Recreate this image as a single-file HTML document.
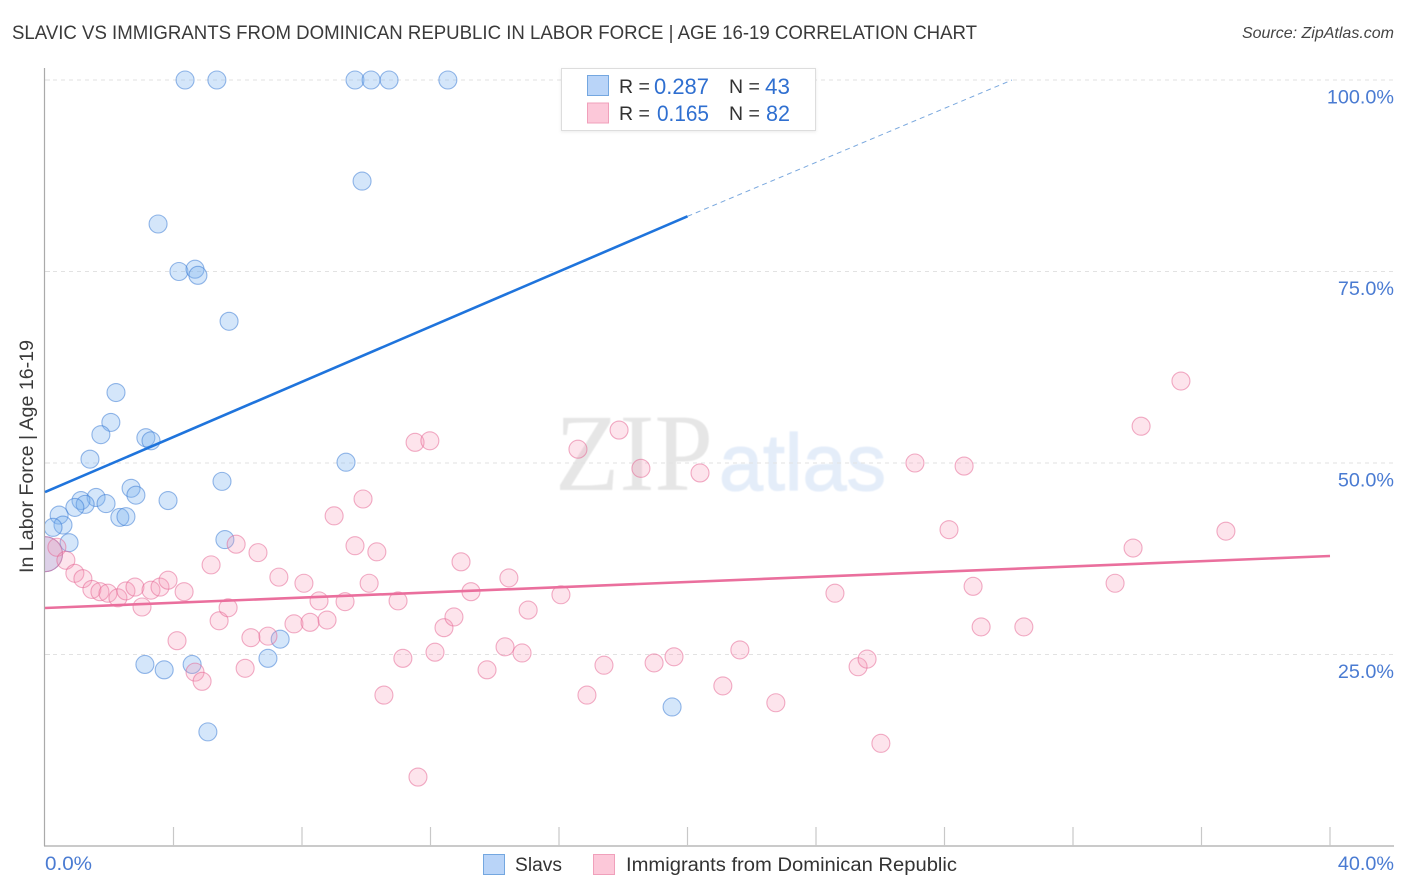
<!DOCTYPE html>
<html lang="en">
<head>
<meta charset="utf-8">
<title>Slavic vs Immigrants from Dominican Republic in Labor Force | Age 16-19 Correlation Chart</title>
<style>
html,body{margin:0;padding:0;background:#fff;width:1406px;height:892px;overflow:hidden}
svg{display:block}
text{font-family:"Liberation Sans",sans-serif}
</style>
</head>
<body>
<svg id="chart" width="1406" height="892" viewBox="0 0 1406 892" xmlns="http://www.w3.org/2000/svg">
  <defs>
    <clipPath id="plot-clip"><rect x="45" y="60" width="1349" height="786"/></clipPath>
    <filter id="legend-shadow" x="-5%" y="-10%" width="110%" height="125%"><feDropShadow dx="0" dy="1" stdDeviation="1.5" flood-color="#000" flood-opacity="0.08"/></filter>
    <filter id="wm-blur" x="-5%" y="-5%" width="110%" height="110%"><feGaussianBlur stdDeviation="0.6"/></filter>
  </defs>
  <text x="12" y="39" font-size="19.5" fill="#3a3a3a" textLength="965" lengthAdjust="spacingAndGlyphs">SLAVIC VS IMMIGRANTS FROM DOMINICAN REPUBLIC IN LABOR FORCE | AGE 16-19 CORRELATION CHART</text>
  <text x="1394" y="38" font-size="16" font-style="italic" fill="#444" text-anchor="end">Source: ZipAtlas.com</text>

  <g filter="url(#wm-blur)">
    <text x="555" y="490" font-size="110" fill="#e6e6e6" textLength="158" lengthAdjust="spacingAndGlyphs" style="font-family:'Liberation Serif',serif">ZIP</text>
    <text x="719" y="490" font-size="80" fill="#e4edf9" stroke="#e4edf9" stroke-width="1.2" textLength="167" lengthAdjust="spacingAndGlyphs">atlas</text>
  </g>

  <g id="grid"></g>
  <g id="axes"></g>
  <g id="blue-points" clip-path="url(#plot-clip)"></g>
  <g id="pink-points" clip-path="url(#plot-clip)"></g>
  <g id="trends"></g>
  <g id="tick-labels"></g>

  <text transform="translate(33,573) rotate(-90)" font-size="19" fill="#3a3a3a" textLength="233" lengthAdjust="spacingAndGlyphs">In Labor Force | Age 16-19</text>

  <g>
    <rect x="561.5" y="68.5" width="254" height="62" fill="#fff" stroke="#ddd" filter="url(#legend-shadow)"/>
    <rect x="587.5" y="75.5" width="21" height="20" fill="#b9d4f8" stroke="#74a7e0"/>
    <rect x="587.5" y="103" width="21" height="20" fill="#fcc8d9" stroke="#f0a0bb"/>
    <text x="619" y="93" font-size="19.5" fill="#333">R =</text>
    <text x="654" y="94" font-size="22" fill="#2f6fd0" textLength="55" lengthAdjust="spacingAndGlyphs">0.287</text>
    <text x="729" y="93" font-size="19.5" fill="#333">N =</text>
    <text x="765" y="94" font-size="22" fill="#2f6fd0" textLength="25" lengthAdjust="spacingAndGlyphs">43</text>
    <text x="619" y="120" font-size="19.5" fill="#333">R =</text>
    <text x="657" y="121" font-size="22" fill="#2f6fd0" textLength="52" lengthAdjust="spacingAndGlyphs">0.165</text>
    <text x="729" y="120" font-size="19.5" fill="#333">N =</text>
    <text x="766" y="121" font-size="22" fill="#2f6fd0" textLength="24" lengthAdjust="spacingAndGlyphs">82</text>
  </g>

  <g>
    <rect x="483.5" y="854.5" width="21" height="20" fill="#b9d4f8" stroke="#74a7e0"/>
    <text x="515" y="871" font-size="19" fill="#333" textLength="47" lengthAdjust="spacingAndGlyphs">Slavs</text>
    <rect x="593.5" y="854.5" width="21" height="20" fill="#fcc8d9" stroke="#f0a0bb"/>
    <text x="626" y="871" font-size="19" fill="#333" textLength="331" lengthAdjust="spacingAndGlyphs">Immigrants from Dominican Republic</text>
  </g>
</svg>
<script>
// Chart data (percent values)
const xTickValues = [0, 4, 8, 12, 16, 20, 24, 28, 32, 36, 40];
const yGridValues = [25, 50, 75, 100];
const yTickLabels = ["25.0%", "50.0%", "75.0%", "100.0%"];
const xEndLabels = ["0.0%", "40.0%"];

const slavsX = [4.36,5.35,9.65,10.15,10.71,12.54,9.87,3.52,4.17,4.67,4.76,5.73,2.21,2.05,1.74,3.14,3.3,1.4,9.37,5.51,2.68,2.83,1.59,1.12,1.25,0.93,1.9,3.83,0.44,2.33,2.52,0.56,0.25,5.6,0.75,0,3.11,3.71,4.58,6.94,7.32,19.52,5.07];
const slavsY = [100,100,100,100,100,100,86.8,81.2,75,75.3,74.5,68.5,59.2,55.3,53.7,53.3,52.9,50.5,50.1,47.6,46.7,45.8,45.5,45.1,44.6,44.2,44.7,45.1,43.2,42.9,43,41.9,41.6,40,39.6,38.1,23.7,23,23.7,24.5,27,18.15,14.9];
const slavsR = [9,9,9,9,9,9,9,9,9,9,9,9,9,9,9,9,9,9,9,9,9,9,9,9,9,9,9,9,9,9,9,9,9,9,9,17.5,9,9,9,9,9,9,9];

const immigrantsX = [0,0.37,0.65,0.93,1.18,1.46,1.71,1.96,2.27,2.52,2.8,3.02,3.3,3.58,3.83,4.33,4.11,4.67,4.89,5.17,5.42,5.7,5.95,6.23,6.41,6.63,6.94,7.28,7.75,8.06,8.25,8.53,8.78,9,9.34,9.65,9.9,10.09,10.33,10.55,10.99,11.14,11.52,11.61,11.98,12.14,12.42,12.73,12.95,13.26,13.76,14.32,14.44,14.85,15.04,16.06,16.59,16.87,17.4,17.87,18.55,18.96,19.58,20.39,21.1,21.63,22.75,24.59,25.31,25.59,26.02,27.08,28.14,28.61,28.89,29.14,30.47,33.31,33.87,34.12,35.36,36.76];
const immigrantsY = [38.1,39,37.3,35.6,34.9,33.5,33.2,33,32.4,33.3,33.8,31.2,33.4,33.8,34.7,33.2,26.8,22.7,21.5,36.7,29.4,31.1,39.4,23.2,27.2,38.3,27.4,35.1,29,34.3,29.2,32,29.5,43.1,31.9,39.2,45.3,34.3,38.4,19.7,32,24.5,52.7,9,52.9,25.3,28.5,29.9,37.1,33.2,23,26,35,25.2,30.8,32.8,51.8,19.7,23.6,54.3,49.3,23.9,24.7,48.7,20.9,25.6,18.7,33,23.4,24.4,13.4,50,41.3,49.6,33.9,28.6,28.6,34.3,38.9,54.8,60.7,41.1];
const immigrantsR = [17.5].concat(new Array(81).fill(9));

const slavsTrendX = [0, 20];
const slavsTrendY = [46.2, 82.2];
const slavsTrendDashX = [20, 30.1];
const slavsTrendDashY = [82.2, 100];
const immigrantsTrendX = [0, 40];
const immigrantsTrendY = [31.07, 37.86];

// Axis functions
const xScale = v => 45 + v * 32.125;
const yScale = v => 846 - v * 7.66;

const NS = 'http://www.w3.org/2000/svg';
function make(tag, parentId, props) {
  const el = document.createElementNS(NS, tag);
  for (const k in props) el.setAttribute(k, props[k]);
  document.getElementById(parentId).appendChild(el);
  return el;
}

yGridValues.forEach(v => {
  const grid = make('line', 'grid', {x1: 45, x2: 1394, y1: yScale(v), y2: yScale(v), stroke: '#e2e2e2', 'stroke-width': 1, 'stroke-dasharray': '4 4'});
  
  
  const minor = make('line', 'axes', {x1: 45, x2: 50, y1: yScale(v), y2: yScale(v), stroke: '#ddd', 'stroke-width': 1});
  
  
});

const yAxis = make('line', 'axes', {x1: 44.5, x2: 44.5, y1: 68, y2: 846, stroke: '#aaa', 'stroke-width': 1.2});


const xAxis = make('line', 'axes', {x1: 44, x2: 1394, y1: 846, y2: 846, stroke: '#aaa', 'stroke-width': 1.2});



xTickValues.slice(1).forEach(v => {
  const tick = make('line', 'axes', {x1: xScale(v), x2: xScale(v), y1: 827, y2: 846, stroke: '#c8c8c8', 'stroke-width': 1.2});
  
  
});

function drawPoints(xs, ys, rs, parentId, fill, stroke, name) {
  xs.forEach((x, i) => {
    const c = make('circle', parentId, {cx: xScale(x), cy: yScale(ys[i]), r: rs[i], fill: fill, stroke: stroke, 'stroke-width': 1.1});
    
    
  });
}
drawPoints(slavsX, slavsY, slavsR, 'blue-points', 'rgba(125,178,240,0.33)', 'rgba(55,120,210,0.52)', 'slavs-point');
drawPoints(immigrantsX, immigrantsY, immigrantsR, 'pink-points', 'rgba(246,150,180,0.26)', 'rgba(228,100,145,0.52)', 'immigrants-point');

function drawLine(xs, ys, stroke, width, dash, name) {
  const l = make('line', 'trends', {x1: xScale(xs[0]), y1: yScale(ys[0]), x2: xScale(xs[1]), y2: yScale(ys[1]), stroke: stroke, 'stroke-width': width});
  if (dash) l.setAttribute('stroke-dasharray', dash);
  
  
}
drawLine(slavsTrendX, slavsTrendY, '#1f74dc', 2.6, null, 'slavs-trend-line');
drawLine(slavsTrendDashX, slavsTrendDashY, '#7aa8de', 1, '5 4', 'slavs-trend-projection');
drawLine(immigrantsTrendX, immigrantsTrendY, '#ea6f9d', 2.6, null, 'immigrants-trend-line');

yTickLabels.forEach((label, i) => {
  const t = make('text', 'tick-labels', {x: 1394, y: yScale(yGridValues[i]) + 23.5, 'font-size': 19.8, fill: '#4a7bd2', 'text-anchor': 'end'});
  t.textContent = label;
  
  
});
const x0 = make('text', 'tick-labels', {x: 45, y: 870, 'font-size': 19.8, fill: '#4a7bd2', textLength: 47, lengthAdjust: 'spacingAndGlyphs'});
x0.textContent = xEndLabels[0];


const x1 = make('text', 'tick-labels', {x: 1394, y: 870, 'font-size': 19.8, fill: '#4a7bd2', 'text-anchor': 'end'});
x1.textContent = xEndLabels[1];


</script>
</body>
</html>
